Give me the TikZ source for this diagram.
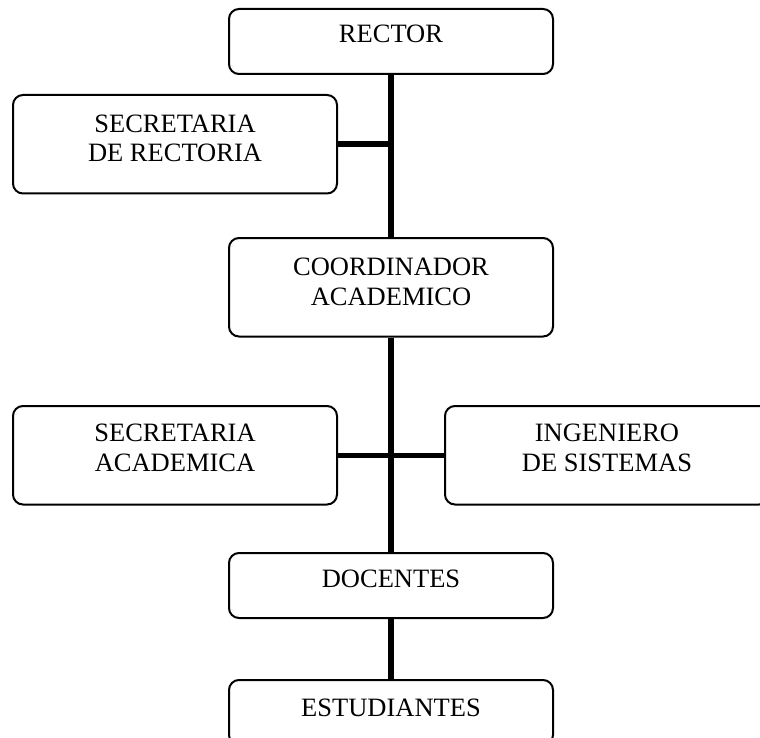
\documentclass[tikz,border=0pt]{standalone}
\usepackage{fontspec}
\setmainfont{Liberation Serif}
\begin{document}
\begin{tikzpicture}[x=1pt,y=-1pt,
	puesto/.style={draw,line width=2pt,rounded corners=10pt,anchor=north,
		minimum width=324pt,inner xsep=0pt,inner ysep=0pt,align=center,
		font=\fontsize{26.5}{29.5}\selectfont},
	uno/.style={puesto,text height=34pt,text depth=31pt},
	dos/.style={puesto,text height=67pt,text depth=31.5pt},
	linea/.style={line width=5.5pt}]

\useasboundingbox (0,0) rectangle (760,738);

% The boxes
\node[uno] (rector) at (391,8) {RECTOR};
\node[dos] (secrect) at (175,94) {SECRETARIA\\DE RECTORIA};
\node[dos] (coord) at (391,237) {COORDINADOR\\ACADEMICO};
\node[dos,text height=65pt,text depth=33.5pt] (secacad) at (175,405) {SECRETARIA\\ACADEMICA};
\node[dos,text height=65pt,text depth=33.5pt] (ing) at (607,405) {INGENIERO\\DE SISTEMAS};
\node[uno] (docentes) at (391,552) {DOCENTES};
\node[uno,text height=36.5pt,text depth=28.5pt] (estud) at (391,679) {ESTUDIANTES};

% The lines of command
\coordinate (j1) at (secrect.east -| rector.south);
\draw[linea] (rector.south) -- (coord.north);
\draw[linea] (secrect.east) -- (j1);
\draw[linea] (coord.south) -- (docentes.north);
\draw[linea] (secacad.east) -- (ing.west);
\draw[linea] (docentes.south) -- (estud.north);

\end{tikzpicture}
\end{document}
